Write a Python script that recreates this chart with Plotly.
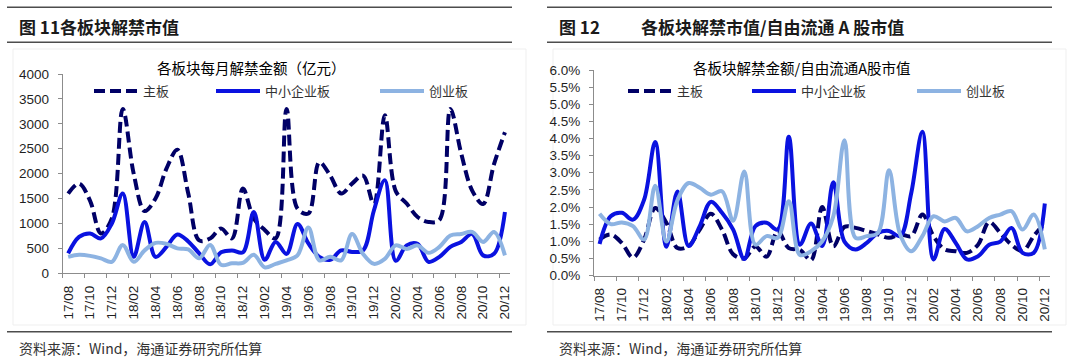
import plotly.graph_objects as go

# ---------------- data ----------------
months = ["17/08", "17/09", "17/10", "17/11", "17/12", "18/01", "18/02", "18/03", "18/04", "18/05",
          "18/06", "18/07", "18/08", "18/09", "18/10", "18/11", "18/12", "19/01", "19/02", "19/03",
          "19/04", "19/05", "19/06", "19/07", "19/08", "19/09", "19/10", "19/11", "19/12", "20/01",
          "20/02", "20/03", "20/04", "20/05", "20/06", "20/07", "20/08", "20/09", "20/10", "20/11",
          "20/12"]

series_names = ["主板", "中小企业板", "创业板"]

# 各板块每月解禁金额（亿元）
amt_main = [1600, 1800, 1460, 800, 1100, 3300, 2000, 1250, 1500, 2100,
            2480, 1600, 660, 700, 900, 700, 1700, 1100, 870, 700,
            3300, 1300, 1200, 2230, 1960, 1600, 1800, 1960, 1390, 3170,
            1650, 1400, 1130, 1030, 1070, 3300, 2400, 1660, 1390, 2190,
            2830]
amt_sme = [400, 730, 800, 700, 1000, 1600, 330, 1030, 330, 530,
           780, 640, 400, 180, 420, 460, 420, 1230, 270, 630,
           390, 990, 600, 330, 270, 460, 430, 460, 1260, 1870,
           250, 560, 590, 230, 330, 530, 630, 790, 360, 390,
           1230]
amt_gem = [330, 370, 350, 300, 230, 570, 230, 460, 610, 590,
           500, 480, 300, 570, 170, 200, 210, 370, 120, 190,
           260, 360, 920, 260, 330, 260, 790, 390, 190, 290,
           560, 490, 560, 410, 530, 760, 790, 830, 630, 830,
           360]

# 各板块解禁金额/自由流通A股市值 (%)
pct_main = [1.05, 1.2, 0.95, 0.52, 1.05, 1.97, 1.54, 0.8, 0.86, 1.34,
            1.8, 1.34, 0.62, 0.5, 0.85, 0.55, 1.3, 0.8, 0.75, 0.45,
            2.0, 0.85, 1.42, 1.39, 1.3, 1.2, 1.1, 1.2, 1.15, 1.78,
            1.15, 0.76, 0.71, 0.66, 0.9, 1.56, 1.24, 0.9, 0.71, 1.15,
            1.54]
pct_sme = [0.92, 1.73, 1.83, 1.63, 2.21, 3.9, 0.84, 2.45, 0.86, 1.44,
           2.15, 1.83, 1.34, 0.48, 1.44, 1.54, 1.34, 4.05, 0.9, 1.52,
           0.86, 2.72, 0.99, 0.76, 0.95, 1.24, 1.3, 1.15, 2.41, 4.2,
           0.47, 1.36, 0.95, 0.47, 0.56, 0.9, 0.99, 1.39, 0.66, 0.66,
           2.1]
pct_gem = [1.8, 1.5, 1.55, 1.44, 1.05, 2.62, 0.99, 2.2, 2.7, 2.56,
           2.36, 2.46, 1.6, 3.04, 0.9, 1.15, 1.1, 2.17, 0.6, 0.71,
           1.0, 1.73, 3.95, 1.1, 1.15, 1.24, 3.07, 1.2, 0.71, 1.15,
           1.73, 1.58, 1.68, 1.29, 1.44, 1.68, 1.78, 1.88, 1.34, 1.78,
           0.76]

colors = ["#000066", "#0a12e0", "#8db3e2"]
dashes = ["11px,5px", "solid", "solid"]

# ---------------- figure ----------------
W, H = 1080, 359
fig = go.Figure()

xs = list(range(len(months)))
left_vals = [amt_main, amt_sme, amt_gem]
right_vals = [[v / 100 for v in pct_main], [v / 100 for v in pct_sme], [v / 100 for v in pct_gem]]

legend_ids_left = ["legend", "legend2", "legend3"]
legend_ids_right = ["legend4", "legend5", "legend6"]

for k in range(3):
    fig.add_trace(go.Scatter(x=xs, y=left_vals[k], name=series_names[k], mode="lines",
                             line=dict(color=colors[k], width=4, dash=dashes[k], shape="spline", smoothing=1),
                             xaxis="x", yaxis="y", legend=legend_ids_left[k]))
for k in range(3):
    fig.add_trace(go.Scatter(x=xs, y=right_vals[k], name=series_names[k], mode="lines",
                             line=dict(color=colors[k], width=4, dash=dashes[k], shape="spline", smoothing=1),
                             xaxis="x2", yaxis="y2", legend=legend_ids_right[k]))


def px(x):
    return x / W


def py(y):
    return 1 - y / H


axis_col = "#8c8c8c"
tick_font = dict(family="Liberation Sans, Arial", size=13.5, color="#1f1f1f")
label_idx = list(range(0, len(months), 2))

xcommon = dict(range=[-0.5, len(months) - 0.5], tickmode="array", tickvals=label_idx,
               ticktext=[months[i] for i in label_idx], tickangle=-90, ticks="",
               showline=True, linecolor=axis_col, linewidth=1, showgrid=False, zeroline=False,
               tickfont=tick_font, ticklabelstandoff=6,
               minor=dict(tickmode="array", tickvals=[i - 0.5 for i in label_idx], ticks="outside",
                          ticklen=4, tickcolor=axis_col, tickwidth=1, showgrid=False))

fig.update_layout(
    width=W, height=H, margin=dict(l=0, r=0, t=0, b=0, autoexpand=False),
    paper_bgcolor="white", plot_bgcolor="white", showlegend=True,
    xaxis=dict(domain=[px(62.7), px(510.4)], anchor="y", **xcommon),
    yaxis=dict(domain=[py(273.3), py(74)], anchor="x", range=[0, 4000], dtick=500, tick0=0,
               showline=True, linecolor=axis_col, linewidth=1, ticks="outside", ticklen=4,
               tickcolor=axis_col, showgrid=False, zeroline=False, tickfont=tick_font,
               ticklabelstandoff=6),
    xaxis2=dict(domain=[px(594), px(1050.4)], anchor="y2", **xcommon),
    yaxis2=dict(domain=[py(275.5), py(70)], anchor="x2", range=[0, 0.06], dtick=0.005, tick0=0,
                tickformat=".1%", showline=True, linecolor=axis_col, linewidth=1, ticks="outside",
                ticklen=4, tickcolor=axis_col, showgrid=False, zeroline=False, tickfont=tick_font,
                ticklabelstandoff=6),
)

# legends, one per entry
leg_font = dict(family="Noto Sans CJK SC", size=13, color="#333333")
left_line_start = [82, 204, 368]
right_line_start = [616, 740, 905]
for ids, starts in ((legend_ids_left, left_line_start), (legend_ids_right, right_line_start)):
    for lid, s in zip(ids, starts):
        fig.update_layout({lid: dict(x=px(s + 7), y=py(91), xanchor="left", yanchor="middle",
                                     orientation="h", bgcolor="rgba(0,0,0,0)", borderwidth=0,
                                     font=leg_font, itemwidth=44)})

# decorative header / footer rules
shapes = []
for x0, x1 in ((7, 512), (547, 1052)):
    for yy in (7.3, 42.3, 331.7):
        shapes.append(dict(type="line", xref="paper", yref="paper", x0=px(x0), x1=px(x1),
                           y0=py(yy), y1=py(yy), line=dict(color="#4d4d4d", width=1.5)))
    shapes.append(dict(type="rect", xref="paper", yref="paper", x0=px(x0 + 6), x1=px(x1 + 14),
                       y0=py(325), y1=py(49), line=dict(color="#efefef", width=1), layer="below"))
fig.update_layout(shapes=shapes)

cjk = "Noto Sans CJK SC"
ann = []


def text(x, y, s, size, bold=False, xanchor="left", color="#1a1a1a"):
    ann.append(dict(x=px(x), y=py(y), xref="paper", yref="paper", text=("<b>%s</b>" % s) if bold else s,
                    showarrow=False, xanchor=xanchor, yanchor="middle",
                    font=dict(family=cjk, size=size, color=color)))


text(17, 27, "图 11各板块解禁市值", 17, bold=True)
text(557, 27, "图 12", 17, bold=True)
text(639, 27, "各板块解禁市值/自由流通 A 股市值", 17, bold=True)
text(251, 67, "各板块每月解禁金额（亿元）", 14.5, xanchor="center", color="#000000")
text(802, 67, "各板块解禁金额/自由流通A股市值", 14.5, xanchor="center", color="#000000")
text(17, 348, "资料来源：Wind，海通证券研究所估算", 14, color="#333333")
text(557, 348, "资料来源：Wind，海通证券研究所估算", 14, color="#333333")
fig.update_layout(annotations=ann)

fig.write_html("out.html", config={"displayModeBar": False},
               post_script="document.body.style.margin='0px';document.body.style.overflow='hidden';")
